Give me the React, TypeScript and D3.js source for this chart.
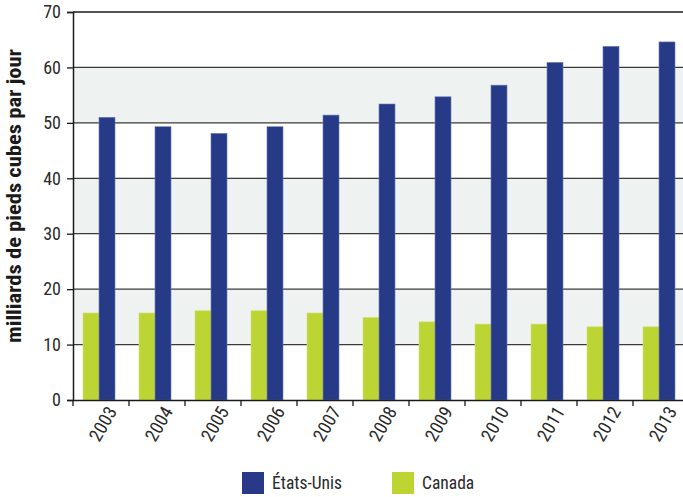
import { useRef, useEffect } from "react";
import * as d3 from "d3";

const years = ["2003", "2004", "2005", "2006", "2007", "2008", "2009", "2010", "2011", "2012", "2013"];
const usValues = [51.0, 49.3, 48.1, 49.3, 51.4, 53.4, 54.7, 56.8, 60.9, 63.8, 64.6];
const canadaValues = [15.7, 15.7, 16.1, 16.1, 15.7, 14.9, 14.1, 13.7, 13.7, 13.2, 13.2];
const seriesNames = ["Canada", "États-Unis"];
const yTicks = [0, 10, 20, 30, 40, 50, 60, 70];
const shadedBands = [[10, 20], [30, 40], [50, 60]];

const COLORS: Record<string, string> = { "États-Unis": "#263a87", Canada: "#bdd532" };
const FONT = "'Liberation Sans Narrow', 'Arial Narrow', 'Roboto Condensed', sans-serif";

export default function App() {
  const svgRef = useRef<SVGSVGElement>(null);

  useEffect(() => {
    if (!svgRef.current) return;
    const svg = d3.select(svgRef.current);
    svg.selectAll("*").remove();

    const left = 73, top = 12, bottom = 400, right = 689;

    const x = d3.scaleBand<string>().domain(years).range([left, right]);
    const x1 = d3.scaleBand<string>().domain(seriesNames).range([10, 42]);
    const y = d3.scaleLinear().domain([0, 70]).range([bottom, top]);

    // Shaded bands
    svg.append("g")
      .selectAll("rect")
      .data(shadedBands)
      .join("rect")
      .attr("x", left)
      .attr("y", (d) => y(d[1]))
      .attr("width", right - left)
      .attr("height", (d) => y(d[0]) - y(d[1]))
      .attr("fill", "#eef2f1");

    // Gridlines
    svg.append("g")
      .selectAll("line")
      .data(yTicks.filter((t) => t > 0))
      .join("line")
      .attr("x1", left).attr("x2", right)
      .attr("y1", (d) => y(d)).attr("y2", (d) => y(d))
      .attr("stroke", (d) => (d === 70 ? "#1a1a1a" : "#3a3a3a"))
      .attr("stroke-width", (d) => (d === 70 ? 1.6 : 1.2));

    // Bars
    const data = years.map((yr, i) => ({ year: yr, values: [canadaValues[i], usValues[i]] }));
    svg.append("g")
      .selectAll("g")
      .data(data)
      .join("g")
      .attr("transform", (d) => `translate(${x(d.year)},0)`)
      .selectAll("rect")
      .data((d) => d.values.map((v, i) => ({ key: seriesNames[i], value: v })))
      .join("rect")
      .attr("x", (d) => x1(d.key)!)
      .attr("y", (d) => y(d.value))
      .attr("width", x1.bandwidth())
      .attr("height", (d) => y(0) - y(d.value))
      .attr("fill", (d) => COLORS[d.key])
      .attr("stroke", (d) => (d.key === "Canada" ? "#d4e27a" : "#6f7cb0"))
      .attr("stroke-width", 0.6);

    // Y axis
    const yAxis = svg.append("g")
      .attr("transform", `translate(${left},0)`)
      .call(d3.axisLeft(y).tickValues(yTicks).tickSize(6).tickPadding(6));
    yAxis.select(".domain").attr("stroke", "#1a1a1a").attr("stroke-width", 1.5);
    yAxis.selectAll(".tick line").attr("stroke", "#1a1a1a").attr("stroke-width", 1.3);
    yAxis.selectAll("text")
      .attr("fill", "#2a2a2a")
      .style("font-family", FONT)
      .style("font-size", "18px");

    // X axis
    const xAxis = svg.append("g")
      .attr("transform", `translate(0,${bottom})`)
      .call(d3.axisBottom(x).tickSize(0).tickSizeOuter(0));
    xAxis.select(".domain").attr("stroke", "#1a1a1a").attr("stroke-width", 1.5);
    xAxis.selectAll(".tick text")
      .attr("fill", "#2a2a2a")
      .attr("text-anchor", "end")
      .attr("transform", "translate(11,8) rotate(-60)")
      .attr("dy", "0.35em")
      .attr("y", 0)
      .style("font-family", FONT)
      .style("font-size", "18.5px");
    // boundary ticks between categories
    svg.append("g")
      .selectAll("line")
      .data(years)
      .join("line")
      .attr("x1", (d) => x(d)!).attr("x2", (d) => x(d)!)
      .attr("y1", bottom).attr("y2", bottom + 6)
      .attr("stroke", "#1a1a1a").attr("stroke-width", 1.3);

    // Y label
    svg.append("text")
      .attr("transform", `translate(21,${(top + bottom) / 2 - 10}) rotate(-90)`)
      .attr("text-anchor", "middle")
      .attr("fill", "#1a1a1a")
      .attr("textLength", 294)
      .attr("lengthAdjust", "spacingAndGlyphs")
      .style("font-family", FONT)
      .style("font-weight", "bold")
      .style("font-size", "20px")
      .text("milliards de pieds cubes par jour");

    // Legend
    const legendItems = [
      { key: "États-Unis", x: 242 },
      { key: "Canada", x: 392 },
    ];
    const lg = svg.append("g")
      .selectAll("g")
      .data(legendItems)
      .join("g")
      .attr("transform", (d) => `translate(${d.x},472)`);
    lg.append("rect")
      .attr("width", 22).attr("height", 22)
      .attr("fill", (d) => COLORS[d.key]);
    lg.append("text")
      .attr("x", 30).attr("y", 17)
      .attr("fill", "#2a2a2a")
      .style("font-family", FONT)
      .style("font-size", "17.5px")
      .text((d) => d.key);
  }, []);

  return (
    <svg
      ref={svgRef}
      width={683}
      height={497}
      style={{ position: "absolute", left: 0, top: 0, background: "#fff" }}
    />
  );
}
